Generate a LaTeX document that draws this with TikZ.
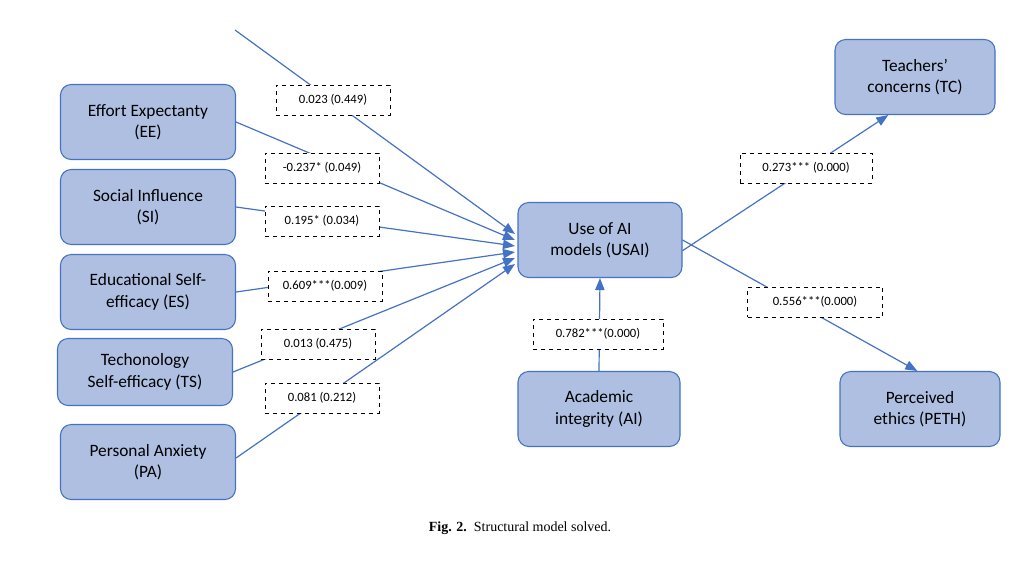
\documentclass[tikz,border=0pt]{standalone}
\usepackage{fontspec}
\setmainfont{Carlito}
\newfontfamily\capfont{Liberation Serif}
\usetikzlibrary{positioning,arrows.meta}
\definecolor{boxfill}{HTML}{AEBFE2}
\definecolor{boxline}{HTML}{4472C4}
\tikzset{
  construct/.style={draw=boxline,fill=boxfill,rounded corners=8pt,minimum width=175pt*0.75,minimum height=75pt*0.75,align=center,font=\fontsize{13}{16}\selectfont,line width=0.8pt},
  coef/.style={draw,dashed,fill=white,minimum width=114pt*0.75,minimum height=30pt*0.75,font=\fontsize{9.5}{11}\selectfont,inner sep=1pt},
  path/.style={draw=boxline,line width=0.9pt,-{Triangle[length=9pt,width=7pt]}}
}
\begin{document}
\begin{tikzpicture}[x=0.75pt,y=0.75pt,yscale=-1]
        \useasboundingbox (0,0) rectangle (1033,562);
        % constructs
        \node[construct] (ee) at (148,122) {Effort Expectanty\\(EE)};
        \node[construct] (si) at (148,207) {Social Influence\\(SI)};
        \node[construct] (es) at (148,292) {Educational Self-\\efficacy (ES)};
        \node[construct,minimum height=67pt*0.75] (ts) at (145,372) {Techonology\\Self-efficacy (TS)};
        \node[construct] (pa) at (148,462) {Personal Anxiety\\(PA)};
        \node[construct,minimum width=164pt*0.75] (usai) at (600,240) {Use of AI\\models (USAI)};
        \node[construct,minimum width=162pt*0.75] (ai) at (599,409) {Academic\\integrity (AI)};
        \node[construct,minimum width=160pt*0.75] (tc) at (915,77) {Teachers'\\concerns (TC)};
        \node[construct,minimum width=160pt*0.75] (peth) at (920,409) {Perceived\\ethics (PETH)};
        % hub points
        \coordinate (top) at (235,30);
        \coordinate (h1) at (515,234);
        \coordinate (h2) at (515,240);
        \coordinate (h3) at (515,246);
        \coordinate (h4) at (515,252);
        \coordinate (h5) at (515,258);
        \coordinate (h6) at (515,264);
        % paths
        \draw[path] (top) -- (h1);
        \draw[path] (ee.east) -- (h2);
        \draw[path] (si.east) -- (h3);
        \draw[path] (es.east) -- (h4);
        \draw[path] (ts.east) -- (h5);
        \draw[path] ([yshift=-3pt]pa.east) -- (h6);
        \draw[path] (ai.north) -- (usai.south);
        \draw[path] ([yshift=8pt]usai.east) -- ([xshift=-20pt]tc.south);
        \draw[path] (usai.east) -- ([xshift=-2pt]peth.north);
        % coefficients
        \node[coef] (c1) at (333,100) {0.023 (0.449)};
        \node[coef] (c2) at (322,168) {-0.237* (0.049)};
        \node[coef] (c3) at (322,221) {0.195* (0.034)};
        \node[coef] (c4) at (325,286) {0.609***(0.009)};
        \node[coef] (c5) at (318,344) {0.013 (0.475)};
        \node[coef] (c6) at (322,398) {0.081 (0.212)};
        \node[coef,minimum width=130pt*0.75] (c7) at (598,334) {0.782***(0.000)};
        \node[coef,minimum width=132pt*0.75] (c8) at (806,168) {0.273*** (0.000)};
        \node[coef,minimum width=135pt*0.75] (c9) at (815,302) {0.556***(0.000)};
        % caption
        \node[font=\capfont\fontsize{10.5}{12}\selectfont] (cap) at (520,528) {\textbf{Fig. 2.}\ \ Structural model solved.};
\end{tikzpicture}
\end{document}
